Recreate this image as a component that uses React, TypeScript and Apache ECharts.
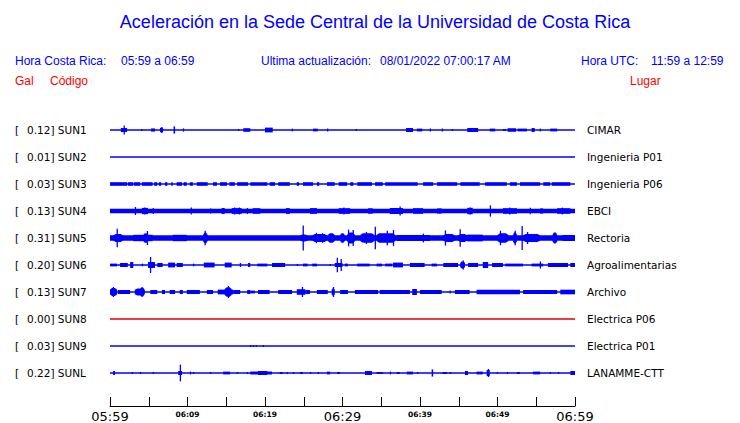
import React, { useEffect, useRef } from "react";
import * as echarts from "echarts";

// ---------- data ----------
const TITLE = "Aceleración en la Sede Central de la Universidad de Costa Rica";
const HORA_CR = "05:59 a 06:59";
const ACTUALIZACION = "08/01/2022 07:00:17 AM";
const HORA_UTC = "11:59 a 12:59";

const CODES = ["SUN1", "SUN2", "SUN3", "SUN4", "SUN5", "SUN6", "SUN7", "SUN8", "SUN9", "SUNL"];
const GAL = [0.12, 0.01, 0.03, 0.13, 0.31, 0.2, 0.13, 0.0, 0.03, 0.22];
const PLACES = [
  "CIMAR", "Ingenieria P01", "Ingenieria P06", "EBCI", "Rectoria",
  "Agroalimentarias", "Archivo", "Electrica P06", "Electrica P01", "LANAMME-CTT",
];
const TRACE_COLORS = ["#0000ff", "#0000ff", "#0000ff", "#0000ff", "#0000ff", "#0000ff", "#0000ff", "#e00000", "#0000ff", "#0000ff"];

const TIME_RANGE = [0, 60]; // minutes after 05:59
const TIME_LABELS = ["05:59", "06:09", "06:19", "06:29", "06:39", "06:49", "06:59"];
const MAJOR_LABELS = ["05:59", "06:29", "06:59"];

// Envelope bursts per station: [start min, end min, half amplitude (Gal)]
// Items spanning the whole hour are the continuous noise band.
const SUN1: number[][] = [
  [1.4, 2.2, 0.05], [1.75, 1.9, 0.11], [4.0, 4.1, 0.025], [5.3, 5.8, 0.04], [6.45, 6.85, 0.055], [6.6, 6.7, 0.075],
  [8.2, 8.4, 0.09], [9.4, 9.5, 0.04], [16.5, 16.6, 0.025], [17.2, 18.1, 0.045], [20.0, 21.0, 0.06],
  [23.45, 23.55, 0.035], [26.2, 26.8, 0.035], [28.0, 28.1, 0.035], [31.7, 31.8, 0.025], [38.2, 39.1, 0.05],
  [39.6, 40.3, 0.035], [41.25, 41.35, 0.035], [42.8, 42.9, 0.035], [44.1, 44.2, 0.025], [46.1, 47.5, 0.05],
  [49.0, 49.7, 0.035], [50.7, 51.1, 0.025], [51.3, 52.4, 0.045], [52.6, 53.8, 0.035], [54.4, 54.8, 0.05],
  [55.45, 55.55, 0.035], [56.8, 57.7, 0.035],
];
const SUN2: number[][] = [];
const SUN3: number[][] = [
  [0, 2.2, 0.045], [2.3, 3.0, 0.045], [3.1, 3.9, 0.045], [4.1, 5.5, 0.045], [5.7, 6.1, 0.045], [6.3, 6.6, 0.045],
  [7.1, 7.4, 0.045], [7.9, 8.1, 0.045], [8.6, 9.3, 0.045], [9.5, 9.9, 0.045], [10.3, 10.7, 0.045], [11.2, 12.6, 0.045],
  [13.3, 13.8, 0.045], [14.2, 15.1, 0.045], [15.4, 16.1, 0.045], [16.4, 17.8, 0.045], [18.1, 20.3, 0.045],
  [20.6, 21.3, 0.045], [21.7, 23.2, 0.045], [24.1, 24.4, 0.045], [24.9, 26.2, 0.045], [26.7, 27.0, 0.045],
  [28.0, 29.0, 0.045], [29.5, 30.6, 0.045], [31.0, 31.4, 0.045], [31.9, 33.8, 0.045], [34.2, 35.2, 0.045],
  [35.5, 39.7, 0.045], [40.4, 41.7, 0.045], [42.2, 44.8, 0.045], [45.2, 47.7, 0.045], [48.4, 51.2, 0.045],
  [51.6, 52.5, 0.045], [52.9, 55.5, 0.045], [55.9, 56.8, 0.045], [57.0, 59.4, 0.045],
];
const SUN4: number[][] = [
  [0, 60, 0.058], [3.2, 3.3, 0.1], [4.1, 4.9, 0.078], [4.4, 4.5, 0.09], [5.5, 5.6, 0.075], [10.4, 10.5, 0.09],
  [12.9, 13.0, 0.065], [14.4, 14.8, 0.075], [15.7, 17.0, 0.072], [16.0, 16.1, 0.09], [16.6, 16.7, 0.09],
  [17.65, 17.75, 0.075], [18.4, 19.4, 0.07], [22.7, 23.2, 0.072], [25.8, 26.7, 0.072], [29.5, 31.0, 0.07],
  [30.1, 30.2, 0.09], [33.3, 33.9, 0.068], [36.1, 37.8, 0.075], [37.35, 37.45, 0.115], [39.1, 40.4, 0.07],
  [42.2, 42.8, 0.065], [46.1, 46.8, 0.08], [46.4, 46.5, 0.09], [49.0, 49.1, 0.14], [50.7, 52.5, 0.07],
  [51.5, 51.6, 0.085], [54.15, 54.25, 0.08], [55.5, 55.9, 0.065], [57.7, 59.4, 0.07], [58.3, 58.4, 0.085],
];
const SUN5: number[][] = [
  [0, 60, 0.07], [0.4, 1.7, 0.1], [0.85, 0.95, 0.23], [3.0, 5.5, 0.08], [4.3, 4.9, 0.12], [4.75, 4.85, 0.175],
  [8.1, 9.9, 0.08], [12.0, 12.6, 0.13], [12.2, 12.3, 0.18], [24.5, 25.5, 0.09], [24.85, 24.95, 0.31],
  [26.1, 28.0, 0.1], [26.55, 26.65, 0.13], [27.35, 27.45, 0.12], [28.1, 29.0, 0.12], [29.7, 30.3, 0.12],
  [30.6, 31.6, 0.14], [30.7, 30.8, 0.21], [31.3, 31.4, 0.2], [32.3, 34.1, 0.12], [33.0, 33.1, 0.15],
  [34.15, 34.25, 0.28], [34.4, 36.8, 0.12], [35.7, 35.8, 0.18], [36.5, 36.6, 0.2], [37.0, 41.3, 0.078],
  [40.35, 40.45, 0.11], [43.0, 44.5, 0.1], [43.2, 43.3, 0.19], [44.9, 46.1, 0.1], [45.1, 45.2, 0.22],
  [46.1, 48.1, 0.085], [50.0, 51.4, 0.12], [50.3, 50.4, 0.18], [52.0, 52.5, 0.14], [52.2, 52.3, 0.18],
  [53.1, 53.2, 0.3], [53.3, 55.5, 0.1], [53.8, 53.9, 0.15], [57.1, 57.7, 0.14], [58.4, 60, 0.075],
];
const SUN6: number[][] = [
  [0.0, 0.9, 0.035], [1.3, 2.3, 0.05], [2.6, 3.0, 0.075], [4.1, 4.2, 0.035], [4.9, 5.8, 0.075], [5.15, 5.25, 0.2],
  [6.1, 6.8, 0.05], [7.5, 8.4, 0.06], [8.6, 9.4, 0.05], [10.7, 10.8, 0.035], [12.1, 13.5, 0.06], [14.8, 15.7, 0.06],
  [16.75, 16.85, 0.05], [17.8, 18.1, 0.05], [19.0, 20.3, 0.035], [20.9, 22.6, 0.05], [24.1, 24.2, 0.025],
  [24.9, 25.5, 0.035], [26.1, 26.7, 0.035], [28.35, 28.45, 0.025], [29.0, 30.0, 0.05], [29.25, 29.35, 0.18],
  [29.75, 29.85, 0.15], [30.3, 30.7, 0.035], [31.9, 33.5, 0.035], [34.4, 35.1, 0.035], [35.5, 36.4, 0.035],
  [36.5, 37.8, 0.06], [38.7, 40.6, 0.05], [41.5, 42.2, 0.035], [43.0, 44.9, 0.05], [45.2, 45.8, 0.09],
  [45.5, 45.6, 0.11], [46.2, 47.5, 0.05], [48.1, 48.8, 0.075], [49.3, 50.7, 0.05], [51.0, 53.3, 0.035],
  [54.4, 55.9, 0.035], [55.45, 55.55, 0.09], [56.5, 59.1, 0.05], [59.4, 60, 0.05],
];
const SUN7: number[][] = [
  [0.0, 0.9, 0.1], [0.35, 0.45, 0.125], [1.0, 2.6, 0.05], [3.2, 4.5, 0.09], [3.9, 4.4, 0.12], [5.2, 6.1, 0.05],
  [6.7, 7.1, 0.05], [7.7, 8.4, 0.05], [9.0, 9.4, 0.05], [9.9, 11.6, 0.05], [12.5, 13.3, 0.05], [13.9, 15.9, 0.06],
  [14.8, 15.7, 0.12], [15.2, 15.3, 0.15], [15.9, 16.8, 0.05], [17.7, 18.1, 0.05], [18.1, 18.7, 0.035],
  [19.1, 20.6, 0.05], [21.7, 23.5, 0.05], [24.1, 25.2, 0.07], [24.75, 24.85, 0.125], [25.2, 25.8, 0.05],
  [26.7, 28.1, 0.05], [28.6, 29.0, 0.09], [28.75, 28.85, 0.125], [29.7, 30.7, 0.05], [31.6, 34.6, 0.05],
  [34.8, 38.7, 0.05], [39.0, 39.6, 0.075], [40.0, 42.8, 0.05], [43.8, 43.9, 0.035], [44.5, 46.4, 0.05],
  [47.3, 52.9, 0.058], [53.3, 57.7, 0.05], [58.1, 60, 0.058],
];
const SUN8: number[][] = [];
const SUN9: number[][] = [
  [18.05, 18.15, 0.025], [18.4, 18.5, 0.025], [18.8, 18.9, 0.025], [19.7, 19.8, 0.025],
];
const SUNL: number[][] = [
  [0.4, 0.65, 0.05], [2.8, 2.9, 0.025], [3.85, 3.95, 0.025], [5.5, 5.6, 0.025], [8.8, 9.3, 0.05], [9.0, 9.1, 0.21],
  [10.3, 10.4, 0.035], [10.7, 10.8, 0.025], [12.9, 13.0, 0.025], [14.6, 15.5, 0.035], [16.35, 16.45, 0.025],
  [17.65, 17.75, 0.025], [18.1, 20.9, 0.035], [19.1, 20.3, 0.05], [21.9, 22.3, 0.025], [22.8, 22.9, 0.025],
  [23.6, 23.7, 0.025], [24.5, 24.9, 0.025], [25.8, 25.9, 0.025], [26.8, 26.9, 0.025], [28.0, 28.4, 0.035],
  [29.3, 29.7, 0.025], [32.9, 33.8, 0.05], [34.4, 35.2, 0.025], [36.1, 36.2, 0.035], [37.0, 37.4, 0.025],
  [38.3, 39.1, 0.035], [39.6, 39.7, 0.025], [41.5, 41.7, 0.09], [42.9, 43.5, 0.025], [43.85, 43.95, 0.025],
  [45.8, 46.2, 0.05], [47.3, 48.1, 0.035], [48.6, 49.0, 0.075], [48.75, 48.85, 0.1], [49.9, 50.0, 0.025],
  [51.2, 51.3, 0.025], [52.5, 52.9, 0.025], [54.6, 55.5, 0.035], [56.75, 56.85, 0.025], [57.8, 57.9, 0.025],
  [59.4, 60, 0.05],
];
const TRACES = [SUN1, SUN2, SUN3, SUN4, SUN5, SUN6, SUN7, SUN8, SUN9, SUNL];

// ---------- layout ----------
const W = 740;
const H = 423;
const PLOT_LEFT = 110;
const PLOT_WIDTH = 465;
const ROW0 = 130;
const ROW_GAP = 27;
const AMP_LIMIT = 0.3375; // Gal, half-height of each row band
const TAPER_MIN_AMP = 0.09; // larger bursts are drawn as tapered blobs
const BLUE = "#0000ff";
const RED = "#ff0000";
const SANS = "'Liberation Sans', Arial, sans-serif";
const DEJAVU = "'DejaVu Sans', sans-serif";

export default function App() {
  const ref = useRef<HTMLDivElement>(null);

  useEffect(() => {
    document.body.style.margin = "0";
    if (!ref.current) return;
    const chart = echarts.init(ref.current, null, { renderer: "svg" });

    const grids: any[] = [];
    const xAxes: any[] = [];
    const yAxes: any[] = [];
    const series: any[] = [];

    TRACES.forEach((trace, i) => {
      const color = TRACE_COLORS[i];
      grids.push({ left: PLOT_LEFT, width: PLOT_WIDTH, top: ROW0 + ROW_GAP * i - ROW_GAP / 2, height: ROW_GAP });
      xAxes.push({ type: "value", gridIndex: i, min: TIME_RANGE[0], max: TIME_RANGE[1], show: false });
      yAxes.push({ type: "value", gridIndex: i, min: -AMP_LIMIT, max: AMP_LIMIT, show: false });
      series.push({
        type: "line",
        xAxisIndex: i,
        yAxisIndex: i,
        data: TIME_RANGE.map((t) => [t, 0]),
        symbol: "none",
        lineStyle: { color, width: 1.4 },
        silent: true,
      });
      series.push({
        type: "custom",
        xAxisIndex: i,
        yAxisIndex: i,
        data: trace,
        silent: true,
        renderItem: (_p: any, api: any) => {
          const t0 = api.value(0);
          const t1 = api.value(1);
          const a = api.value(2);
          const full = t0 <= TIME_RANGE[0] && t1 >= TIME_RANGE[1];
          const p0 = api.coord([t0, a]);
          const p1 = api.coord([t1, -a]);
          const w = Math.max(p1[0] - p0[0], 1.3);
          const yc = (p0[1] + p1[1]) / 2;
          const h = (p1[1] - p0[1]) / 2;
          if (full || w < 3 || a < TAPER_MIN_AMP) {
            return {
              type: "rect",
              shape: { x: p0[0], y: p0[1], width: w, height: 2 * h },
              style: { fill: color },
            };
          }
          const e = Math.min(w * 0.3, 2.5);
          const x0 = p0[0];
          const x1 = p0[0] + w;
          return {
            type: "polygon",
            shape: {
              points: [
                [x0, yc - h * 0.6], [x0 + e, yc - h], [x1 - e, yc - h], [x1, yc - h * 0.6],
                [x1, yc + h * 0.6], [x1 - e, yc + h], [x0 + e, yc + h], [x0, yc + h * 0.6],
              ],
            },
            style: { fill: color },
          };
        },
      });
    });

    // time axis grid
    const ai = TRACES.length;
    grids.push({ left: PLOT_LEFT, width: PLOT_WIDTH, top: 400, height: 9 });
    xAxes.push({
      type: "value",
      gridIndex: ai,
      min: TIME_RANGE[0],
      max: TIME_RANGE[1],
      interval: 5,
      position: "bottom",
      splitLine: { show: false },
      axisLine: { show: true, lineStyle: { color: "#000", width: 1 } },
      axisTick: { show: true, inside: true, length: 9, lineStyle: { color: "#000", width: 1 } },
      axisLabel: {
        show: true,
        margin: 3,
        showMinLabel: true,
        showMaxLabel: true,
        hideOverlap: false,
        formatter: (v: number) => {
          if (v % 10 !== 0) return "";
          const lab = TIME_LABELS[Math.round(v / 10)];
          return MAJOR_LABELS.includes(lab) ? `{big|${lab}}` : `{small|${lab}}`;
        },
        rich: {
          big: { fontFamily: DEJAVU, fontSize: 13, color: "#000", lineHeight: 15 },
          small: { fontFamily: DEJAVU, fontSize: 7.5, fontWeight: "bold", color: "#000", lineHeight: 10 },
        },
      },
    });
    yAxes.push({ type: "value", gridIndex: ai, min: 0, max: 1, show: false });

    const txt = (text: string, x: number, y: number, fill: string, font: string, align = "left") => ({
      type: "text",
      x,
      y,
      silent: true,
      style: { text, fill, font, align, verticalAlign: "middle" },
    });

    const graphics: any[] = [
      txt(TITLE, W / 2 + 5, 22, BLUE, `18px ${SANS}`, "center"),
      txt("Hora Costa Rica:", 15, 60.5, BLUE, `12px ${SANS}`),
      txt(HORA_CR, 121, 60.5, BLUE, `12px ${SANS}`),
      txt("Ultima actualización:", 261, 60.5, BLUE, `12px ${SANS}`),
      txt(ACTUALIZACION, 380, 60.5, BLUE, `12px ${SANS}`),
      txt("Hora UTC:", 581, 60.5, BLUE, `12px ${SANS}`),
      txt(HORA_UTC, 651, 60.5, BLUE, `12px ${SANS}`),
      txt("Gal", 15, 80.5, RED, `12px ${SANS}`),
      txt("Código", 50, 80.5, RED, `12px ${SANS}`),
      txt("Lugar", 630, 80.5, RED, `12px ${SANS}`),
    ];
    CODES.forEach((code, i) => {
      const y = ROW0 + ROW_GAP * i;
      graphics.push(txt("[", 15, y, "#000", `10.5px ${DEJAVU}`));
      graphics.push(txt(`${GAL[i].toFixed(2)}] ${code}`, 27, y, "#000", `10.5px ${DEJAVU}`));
      graphics.push(txt(PLACES[i], 587, y, "#000", `10.5px ${DEJAVU}`));
    });

    chart.setOption({
      animation: false,
      backgroundColor: "#fff",
      grid: grids,
      xAxis: xAxes,
      yAxis: yAxes,
      series,
      graphic: graphics,
    });

    return () => chart.dispose();
  }, []);

  return <div ref={ref} style={{ width: W, height: H }} />;
}
